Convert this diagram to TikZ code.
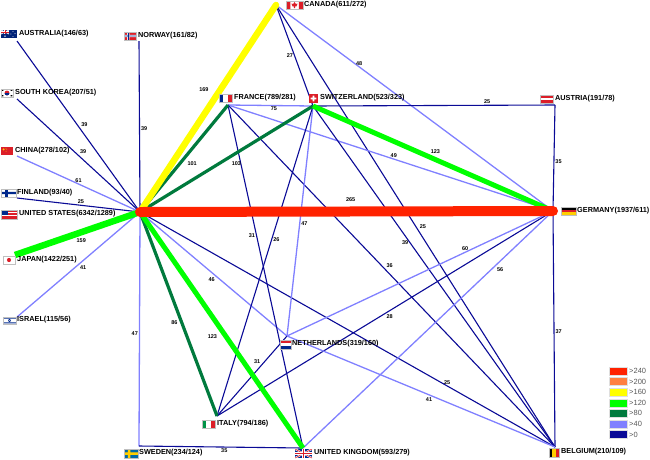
\documentclass[tikz,border=0pt]{standalone}
\usepackage{fontspec}
\setmainfont{Liberation Sans}
\definecolor{c240}{RGB}{255,34,0}
\definecolor{c200}{RGB}{255,128,64}
\definecolor{c160}{RGB}{255,255,0}
\definecolor{c120}{RGB}{0,255,0}
\definecolor{c80}{RGB}{0,122,61}
\definecolor{c40}{RGB}{128,128,255}
\definecolor{c0}{RGB}{10,10,150}
\definecolor{flred}{RGB}{220,30,40}
\definecolor{flblue}{RGB}{0,40,140}
\definecolor{flsky}{RGB}{0,106,167}
\definecolor{flgold}{RGB}{255,206,0}
\definecolor{flgreen}{RGB}{0,146,70}
\tikzset{
  lbl/.style={font=\fontsize{7.3}{8}\selectfont\bfseries, inner sep=0pt, anchor=west},
  wl/.style={font=\fontsize{5.5}{6}\selectfont\bfseries, inner sep=1pt},
  e0/.style={draw=c0, line width=1.1pt},
  e40/.style={draw=c40, line width=1.3pt},
  e80/.style={draw=c80, line width=3.2pt},
  e120/.style={draw=c120, line width=5pt},
  e160/.style={draw=c160, line width=6.5pt, line cap=round},
  e240/.style={draw=c240, line width=10pt, line cap=round},
  fb/.style={draw=gray!50, line width=.3pt},
  pics/vtri/.style n args={3}{code={
    \fill[#1] (0,0) rectangle (.34,1);
    \fill[#2] (.33,0) rectangle (.67,1);
    \fill[#3] (.66,0) rectangle (1,1);
    \draw[fb] (0,0) rectangle (1,1);}},
  pics/htri/.style n args={3}{code={
    \fill[#1] (0,0) rectangle (1,.34);
    \fill[#2] (0,.33) rectangle (1,.67);
    \fill[#3] (0,.66) rectangle (1,1);
    \draw[fb] (0,0) rectangle (1,1);}},
  pics/nordic/.style n args={3}{code={
    \fill[#1] (0,0) rectangle (1,1);
    \fill[#2] (.27,0) rectangle (.45,1) (0,.36) rectangle (1,.64);
    \fill[#3] (.32,0) rectangle (.40,1) (0,.44) rectangle (1,.56);
    \draw[fb] (0,0) rectangle (1,1);}},
  pics/chflag/.style={code={
    \fill[flred] (0,0) rectangle (1,1);
    \fill[white] (.4,.18) rectangle (.6,.82) (.18,.4) rectangle (.82,.6);}},
  pics/caflag/.style={code={
    \fill[white] (0,0) rectangle (1,1);
    \fill[flred] (0,0) rectangle (.25,1) (.75,0) rectangle (1,1);
    \fill[flred] (.5,.12) -- (.58,.38) -- (.68,.32) -- (.62,.66) -- (.53,.66)
      -- (.53,.88) -- (.47,.88) -- (.47,.66) -- (.38,.66) -- (.32,.32) -- (.42,.38) -- cycle;
    \draw[fb] (0,0) rectangle (1,1);}},
  pics/krflag/.style={code={
    \fill[white] (0,0) rectangle (1,1);
    \fill[flred] (.5,.5) circle [x radius=.2, y radius=.3];
    \fill[flblue] (.7,.5) arc [start angle=0, end angle=180, x radius=.2, y radius=.3] -- cycle;
    \fill[black] (.06,.08) rectangle (.2,.24) (.8,.08) rectangle (.94,.24)
      (.06,.76) rectangle (.2,.92) (.8,.76) rectangle (.94,.92);
    \draw[fb] (0,0) rectangle (1,1);}},
  pics/cnflag/.style={code={
    \fill[flred] (0,0) rectangle (1,1);
    \fill[flgold] (.22,.3) circle [x radius=.09, y radius=.14];
    \fill[flgold] (.42,.15) circle [x radius=.03, y radius=.05]
      (.48,.35) circle [x radius=.03, y radius=.05] (.42,.55) circle [x radius=.03, y radius=.05];}},
  pics/usflag/.style={code={
    \fill[white] (0,0) rectangle (1,1);
    \foreach \k in {0,...,6} \fill[flred] (0,\k*2/13) rectangle (1,\k*2/13+1/13);
    \fill[flblue] (0,0) rectangle (.42,7/13);
    \draw[fb] (0,0) rectangle (1,1);}},
  pics/jpflag/.style={code={
    \fill[white] (0,0) rectangle (1,1);
    \fill[flred] (.5,.5) circle [x radius=.17, y radius=.26];
    \draw[fb] (0,0) rectangle (1,1);}},
  pics/ilflag/.style={code={
    \fill[white] (0,0) rectangle (1,1);
    \fill[flblue] (0,.08) rectangle (1,.24) (0,.76) rectangle (1,.92);
    \draw[flblue, line width=.3pt] (.5,.3) -- (.6,.62) -- (.4,.62) -- cycle
      (.5,.7) -- (.6,.38) -- (.4,.38) -- cycle;
    \draw[fb] (0,0) rectangle (1,1);}},
  pics/ukflag/.style={code={
    \begin{scope}
    \clip (0,0) rectangle (1,1);
    \fill[flblue] (0,0) rectangle (1,1);
    \draw[white, line width=1.8pt] (0,0) -- (1,1) (0,1) -- (1,0);
    \draw[flred, line width=.6pt] (0,0) -- (1,1) (0,1) -- (1,0);
    \draw[white, line width=2.6pt] (.5,0) -- (.5,1) (0,.5) -- (1,.5);
    \draw[flred, line width=1.4pt] (.5,0) -- (.5,1) (0,.5) -- (1,.5);
    \end{scope}}},
  pics/auflag/.style={code={
    \fill[flblue!85!black] (0,0) rectangle (1,1);
    \draw[white, line width=.7pt] (0,0) -- (.5,.5) (0,.5) -- (.5,0);
    \draw[white, line width=1.1pt] (.25,0) -- (.25,.5) (0,.25) -- (.5,.25);
    \draw[flred, line width=.5pt] (.25,0) -- (.25,.5) (0,.25) -- (.5,.25);
    \fill[white] (.25,.77) circle [x radius=.05, y radius=.1]
      (.75,.2) circle [x radius=.03, y radius=.06] (.62,.5) circle [x radius=.03, y radius=.06]
      (.88,.45) circle [x radius=.03, y radius=.06] (.75,.82) circle [x radius=.03, y radius=.06];}}
}
\begin{document}
\begin{tikzpicture}[x=1pt, y=-1pt]
\useasboundingbox (0,0) rectangle (650,459);

% end points of the country links
\coordinate (au) at (17,41);
\coordinate (no) at (139,41);
\coordinate (kr) at (17,99);
\coordinate (cn) at (17,156);
\coordinate (fi) at (17,198);
\coordinate (us) at (140,212);
\coordinate (jp) at (15,255);
\coordinate (il) at (17,317);
\coordinate (se) at (139,446);
\coordinate (it) at (217,416);
\coordinate (nl) at (287,336);
\coordinate (uk) at (303,448);
\coordinate (be) at (555,447);
\coordinate (de) at (553,211);
\coordinate (at) at (555,105);
\coordinate (ch) at (313,106);
\coordinate (fr) at (228,105);
\coordinate (ca) at (276,5);

% thin links
\draw[e0] (au) -- node[wl, pos=.51, above right] {39} (us);
\draw[e0] (kr) -- node[wl, pos=.5, above right] {39} (us);
\draw[e40] (cn) -- node[wl, pos=.5, above] {61} (us);
\draw[e0] (fi) -- node[wl, pos=.52, above] {25} (us);
\draw[e0] (no) -- node[wl, pos=.51, right] {39} (us);
\draw[e40] (il) -- node[wl, pos=.5, below right] {41} (us);
\draw[e40] (us) -- node[wl, pos=.52, left] {47} (se);
\draw[e40] (us) -- node[wl, pos=.52, below left] {46} (nl);
\draw[e0] (us) -- node[wl, pos=.74, above] {25} (be);
\draw[e0] (ca) -- node[wl, pos=.5, left] {27} (ch);
\draw[e40] (ca) -- node[wl, pos=.3, above] {48} (de);
\draw[e0] (ca) -- node[wl, pos=.51, above right] {25} (be);
\draw[e40] (fr) -- node[wl, pos=.54, below] {75} (ch);
\draw[e40] (fr) -- node[wl, pos=.51, above] {49} (de);
\draw[e0] (fr) -- node[wl, pos=.38, left] {31} (uk);
\draw[e0] (fr) -- node[wl, pos=.48, above right] {36} (be);
\draw[e0] (ch) -- node[wl, pos=.72, above] {25} (at);
\draw[e40] (ch) -- node[wl, pos=.51, right] {47} (nl);
\draw[e0] (ch) -- node[wl, pos=.43, right] {26} (it);
\draw[e0] (ch) -- node[wl, pos=.4, left] {39} (be);
\draw[e0] (at) -- node[wl, pos=.53, right] {35} (de);
\draw[e0] (de) -- node[wl, pos=.51, right] {37} (be);
\draw[e0] (it) -- node[wl, pos=.64, above left] {31} (nl);
\draw[e0] (it) -- node[wl, pos=.5, below right] {28} (de);
\draw[e40] (nl) -- node[wl, pos=.67, above] {60} (de);
\draw[e40] (uk) -- node[wl, pos=.77, below right] {56} (de);
\draw[e40] (nl) -- node[wl, pos=.53, below, inner sep=2pt] {41} (be);
\draw[e0] (se) -- node[wl, pos=.52, below] {35} (uk);

% heavy links
\draw[e80] (us) -- node[wl, pos=.5, below right, inner sep=2pt] {101} (fr);
\draw[e80] (us) -- node[wl, pos=.51, below right, inner sep=2pt] {103} (ch);
\draw[e80] (us) -- node[wl, pos=.54, left, inner sep=2.5pt] {86} (it);
\draw[e120] (us) -- node[wl, pos=.5, below left, inner sep=2pt] {123} (uk);
\draw[e120] (ch) -- node[wl, pos=.51, above, inner sep=3pt] {123} (de);
\draw[e120, line width=6.5pt] (jp) -- node[wl, pos=.53, below, inner sep=3.5pt] {159} (us);
\draw[e160] (us) -- node[wl, pos=.55, above left, inner sep=3pt] {169} (ca);
\draw[e240] (us) -- node[wl, pos=.51, above, inner sep=5pt] {265} (de);

% flags
\pic[xscale=16, yscale=8] at (1,30) {auflag};
\pic[xscale=12, yscale=8] at (124,32) {nordic={flred}{white}{flblue}};
\pic[xscale=12, yscale=8] at (1,89) {krflag};
\pic[xscale=12, yscale=8] at (1,147) {cnflag};
\pic[xscale=15, yscale=8] at (1,189) {nordic={white}{flblue}{flblue}};
\pic[xscale=16, yscale=9] at (1,210) {usflag};
\pic[xscale=12, yscale=8] at (3,256) {jpflag};
\pic[xscale=13, yscale=7] at (3,317) {ilflag};
\pic[xscale=14, yscale=9] at (124,449) {nordic={flsky}{flgold}{flgold}};
\pic[xscale=13, yscale=8] at (202,420) {vtri={flgreen}{white}{flred}};
\pic[xscale=11, yscale=9] at (280,340) {htri={flred}{white}{flblue}};
\pic[xscale=17, yscale=9] at (295,449) {ukflag};
\pic[xscale=10, yscale=9] at (549,448) {vtri={black}{flgold}{flred}};
\pic[xscale=15, yscale=8] at (561,207) {htri={black}{flred}{flgold}};
\pic[xscale=13, yscale=8] at (540,95) {htri={flred}{white}{flred}};
\pic[xscale=9, yscale=9] at (309,94) {chflag};
\pic[xscale=13, yscale=8] at (219,94) {vtri={flblue}{white}{flred}};
\pic[xscale=17, yscale=8] at (286,1) {caflag};

% country names
\node[lbl] (aul) at (19,34) {AUSTRALIA(146/63)};
\node[lbl] (nol) at (138,36) {NORWAY(161/82)};
\node[lbl] (krl) at (15,93) {SOUTH KOREA(207/51)};
\node[lbl] (cnl) at (15,151) {CHINA(278/102)};
\node[lbl] (fil) at (17,193) {FINLAND(93/40)};
\node[lbl] (usl) at (19,214) {UNITED STATES(6342/1289)};
\node[lbl] (jpl) at (17,260) {JAPAN(1422/251)};
\node[lbl] (ill) at (17,320) {ISRAEL(115/56)};
\node[lbl] (sel) at (139,453) {SWEDEN(234/124)};
\node[lbl] (itl) at (217,424) {ITALY(794/186)};
\node[lbl] (nll) at (292,344) {NETHERLANDS(319/160)};
\node[lbl] (ukl) at (314,453) {UNITED KINGDOM(593/279)};
\node[lbl] (bel) at (561,452) {BELGIUM(210/109)};
\node[lbl] (del) at (577,211) {GERMANY(1937/611)};
\node[lbl] (atl) at (555,99) {AUSTRIA(191/78)};
\node[lbl] (chl) at (320,98) {SWITZERLAND(523/323)};
\node[lbl] (frl) at (234,98) {FRANCE(789/281)};
\node[lbl] (cal) at (304,5) {CANADA(611/272)};

% legend
\foreach \col/\txt [count=\i from 0] in {c240/>240, c200/>200, c160/>160, c120/>120, c80/>80, c40/>40, c0/>0}{
  \fill[\col, draw=gray!25] (609,367+\i*10.6) rectangle ++(18,8);
  \node[anchor=west, inner sep=0pt, font=\fontsize{7.5}{8}\selectfont, text=gray!70!black] (leg\i) at (629,371+\i*10.6) {\txt};
}
\end{tikzpicture}
\end{document}
